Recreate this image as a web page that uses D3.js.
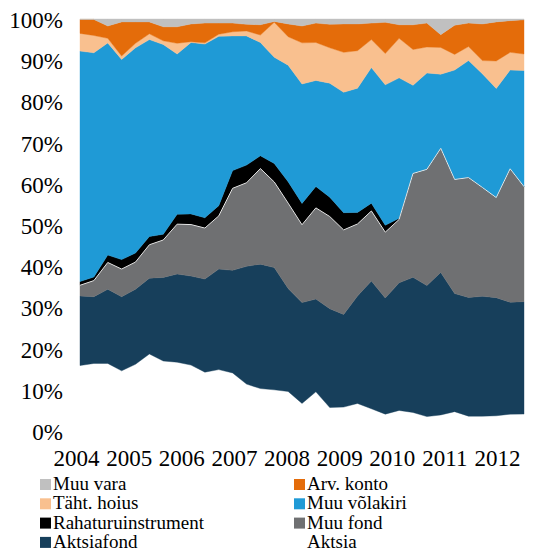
<!DOCTYPE html>
<html>
<head>
<meta charset="utf-8">
<script src="https://cdn.jsdelivr.net/npm/d3@7"></script>
<style>
  html, body { margin: 0; padding: 0; background: #fff; }
  svg { display: block; }
</style>
</head>
<body>
<svg id="chart" width="551" height="552"></svg>
<script>
// Quarterly portfolio structure, 2004 Q1 – 2012 Q1 (shares, %)
const quarters = [
  "2004Q1","2004Q2","2004Q3","2004Q4","2005Q1","2005Q2","2005Q3","2005Q4",
  "2006Q1","2006Q2","2006Q3","2006Q4","2007Q1","2007Q2","2007Q3","2007Q4",
  "2008Q1","2008Q2","2008Q3","2008Q4","2009Q1","2009Q2","2009Q3","2009Q4",
  "2010Q1","2010Q2","2010Q3","2010Q4","2011Q1","2011Q2","2011Q3","2011Q4",
  "2012Q1"
];
const yearLabels = ["2004","2005","2006","2007","2008","2009","2010","2011","2012"];
const yTicks = [0, 0.1, 0.2, 0.3, 0.4, 0.5, 0.6, 0.7, 0.8, 0.9, 1.0];

const aktsia = [15.9,16.4,16.4,14.6,16.2,18.7,17.0,16.7,16.0,14.3,14.9,14.1,11.4,10.3,10.0,9.6,6.7,9.5,5.7,5.8,6.7,5.4,4.1,5.0,4.5,3.5,3.9,4.7,3.6,3.6,3.7,4.1,4.1];
const aktsiafond = [16.9,16.2,18.0,18.0,18.2,18.4,20.3,21.4,21.6,22.6,24.4,24.9,28.6,30.2,29.7,25.0,24.5,22.5,24.0,22.5,26.1,31.0,28.2,31.0,32.8,31.8,34.6,28.7,28.8,29.1,28.7,27.2,27.3];
const muuFond = [2.6,3.9,6.5,6.7,6.6,8.1,9.1,12.1,12.5,12.4,12.9,19.9,20.3,23.2,20.8,20.7,18.9,22.1,22.4,20.5,17.5,17.0,16.0,15.4,25.2,28.2,30.1,27.7,29.1,26.4,24.3,32.4,27.9];
const rahaturu = [0.9,0.9,1.8,2.3,2.2,2.0,1.4,2.4,2.6,2.5,2.5,4.3,4.3,3.1,4.5,5.2,5.2,5.2,4.7,4.2,2.8,1.9,1.7,0.3,0,0,0,0,0,0,0,0,0];
const muuVolakiri = [56.0,54.4,51.5,48.6,49.8,47.8,46.1,38.9,41.6,42.2,41.1,32.7,31.4,27.5,25.8,28.3,29.0,25.7,27.7,29.2,30.2,32.9,34.1,34.1,21.4,23.4,18.0,26.6,28.4,27.6,26.5,24.0,28.2];
const tahtHoius = [4.3,4.2,1.1,0.8,1.1,1.4,0.9,2.6,0.2,0.3,0.5,1.0,1.2,1.8,8.5,6.9,10.0,9.2,8.6,9.7,9.1,6.8,7.6,9.6,8.7,6.3,6.5,3.8,3.4,3.2,6.7,4.3,4.0];
const arvKonto = [3.4,3.9,3.0,8.3,5.2,2.9,3.4,4.0,4.3,4.8,2.7,2.1,1.6,2.5,0.2,3.1,4.1,4.7,5.7,6.9,6.5,4.0,7.6,3.3,6.0,5.8,3.1,7.1,5.7,8.9,9.5,7.7,8.3];
const muuVara = [0.1,0.1,1.7,0.7,0.7,0.7,1.9,1.9,1.2,1.0,1.0,1.0,1.3,1.4,0.6,1.2,1.7,1.0,1.3,1.2,1.2,1.0,0.8,1.4,1.4,1.0,3.8,1.5,1.0,1.2,0.7,0.4,0.2];

// Series, bottom of the stack first
const series = [
  { name: "Aktsia",             values: aktsia,      color: "#ffffff" },
  { name: "Aktsiafond",         values: aktsiafond,  color: "#173f5b" },
  { name: "Muu fond",           values: muuFond,     color: "#6f7072" },
  { name: "Rahaturuinstrument", values: rahaturu,    color: "#000000" },
  { name: "Muu võlakiri",       values: muuVolakiri, color: "#1f9ad6" },
  { name: "Täht. hoius",        values: tahtHoius,   color: "#f9c08f" },
  { name: "Arv. konto",         values: arvKonto,    color: "#e46c0a" },
  { name: "Muu vara",           values: muuVara,     color: "#c0c0c0" }
];

// Legend layout: two columns, read row by row
const legendOrder = [
  "Muu vara", "Arv. konto",
  "Täht. hoius", "Muu võlakiri",
  "Rahaturuinstrument", "Muu fond",
  "Aktsiafond", "Aktsia"
];

const FONT = '"Liberation Serif", "Times New Roman", serif';

const rows = quarters.map((q, i) => {
  const r = { q };
  series.forEach(s => { r[s.name] = s.values[i]; });
  return r;
});

const svg = d3.select("#chart");
const plot = { left: 80, right: 524, top: 19, bottom: 431 };

const x = d3.scalePoint().domain(quarters).range([plot.left, plot.right]);
const y = d3.scaleLinear().domain([0, 1]).range([plot.bottom, plot.top]);

const stack = d3.stack()
  .keys(series.map(s => s.name))
  .offset(d3.stackOffsetExpand);
const layers = stack(rows);

const area = d3.area()
  .x(d => x(d.data.q))
  .y0(d => y(d[0]))
  .y1(d => y(d[1]));

const color = new Map(series.map(s => [s.name, s.color]));

svg.append("g")
  .selectAll("path")
  .data(layers)
  .join("path")
  .attr("d", area)
  .attr("fill", d => color.get(d.key))
  .attr("stroke", d => color.get(d.key))
  .attr("stroke-width", 0.4);

// light edge along the top of the "Muu fond" band
const fondLayer = layers.find(l => l.key === "Muu fond");
svg.append("path")
  .datum(fondLayer)
  .attr("d", d3.line().x(d => x(d.data.q)).y(d => y(d[1])))
  .attr("fill", "none")
  .attr("stroke", "#e6e6e6")
  .attr("stroke-width", 1);

// Y axis labels (no line, no ticks)
const yAxis = d3.axisLeft(y)
  .tickValues(yTicks)
  .tickFormat(d3.format(".0%"))
  .tickSize(0)
  .tickPadding(0);
const gy = svg.append("g")
  .attr("transform", "translate(63,0)")
  .call(yAxis);
gy.select(".domain").remove();
gy.selectAll("text")
  .style("font-family", FONT)
  .style("font-size", "23px")
  .attr("fill", "#000")
  .attr("dy", "0.37em");

// Year labels along the bottom
const xYear = d3.scalePoint().domain(yearLabels).range([76, 497]);
const gx = svg.append("g")
  .attr("transform", "translate(0,466)")
  .call(d3.axisBottom(xYear).tickSize(0).tickPadding(0));
gx.select(".domain").remove();
gx.selectAll("text")
  .style("font-family", FONT)
  .style("font-size", "23px")
  .attr("fill", "#000")
  .attr("dy", 0)
  .attr("y", 0);

// Legend
const legend = svg.append("g");
legendOrder.forEach((name, i) => {
  const col = i % 2, row = Math.floor(i / 2);
  const g = legend.append("g")
    .attr("transform", `translate(${col === 0 ? 40 : 294},${490 + row * 19.3})`);
  g.append("rect")
    .attr("x", 0).attr("y", -11)
    .attr("width", 11).attr("height", 11)
    .attr("fill", color.get(name));
  g.append("text")
    .attr("x", 13).attr("y", 0)
    .attr("fill", "#000")
    .style("font-family", FONT)
    .style("font-size", "19px")
    .text(name);
});
</script>
</body>
</html>
